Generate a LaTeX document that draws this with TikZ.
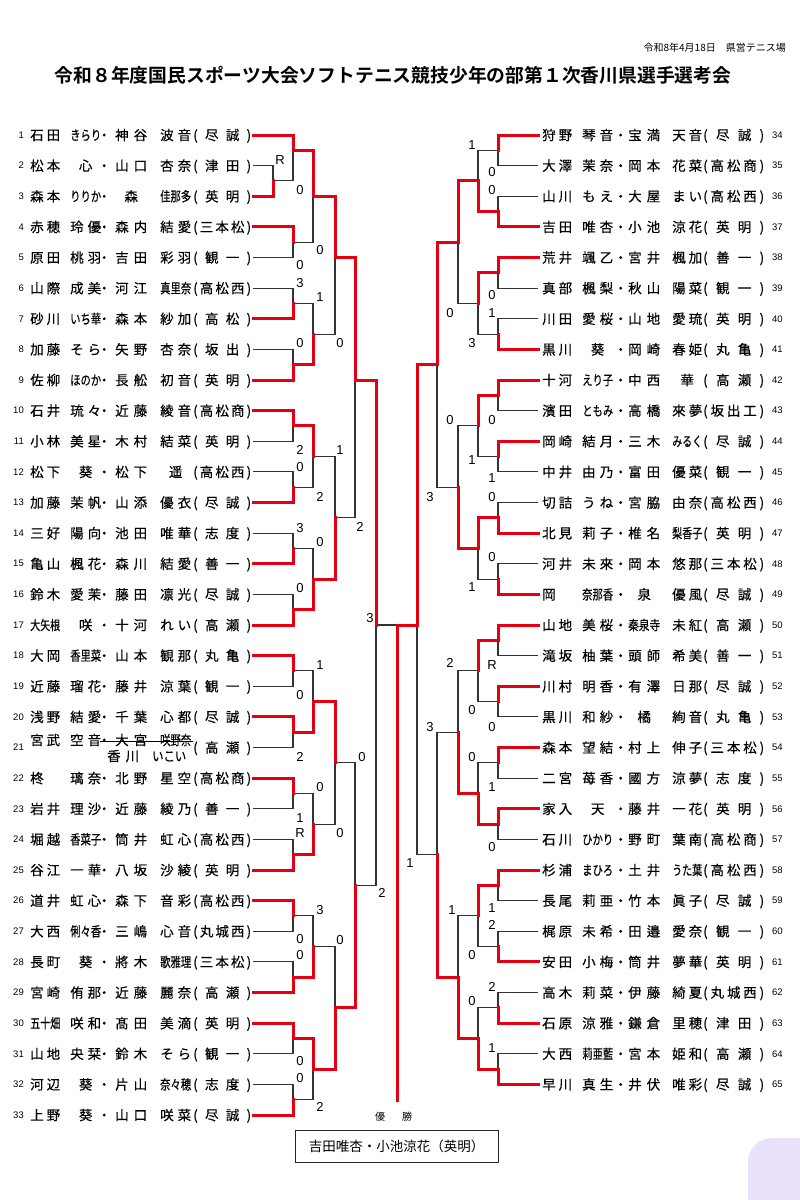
\documentclass[tikz,border=0pt]{standalone}
\usepackage{fontspec}
\usepackage{graphicx}
\usetikzlibrary{positioning}
\newfontfamily\cjk{Noto Sans CJK JP}[BoldFont={Noto Sans CJK JP Bold}]
\newfontfamily\cjkn{Noto Sans CJK JP}[FakeBold=0.3]
\newfontfamily\lat{Liberation Sans}
\definecolor{brk}{RGB}{228,0,18}
\definecolor{blob}{RGB}{234,226,250}
% spread the characters of a name over a fixed width, squeeze long ones
\newsavebox\dbox
\newdimen\dwd
\def\distA#1{#1\distB}
\def\distB#1{\ifx\relax#1\else\hfill#1\expandafter\distB\fi}
\newcommand\dist[2]{\sbox\dbox{#2}\dwd=\wd\dbox
  \ifdim\dwd>#1pt\pgfmathsetmacro\dfac{#1/\dwd}\scalebox{\dfac}[1]{\usebox\dbox}%
  \else\hbox to #1pt{\hss\distA#2\relax\hss}\fi}
% one entry on the left / right side
\newcommand\lrow[6]{%
  \node[num,anchor=east] (n#1) at (24,{135+30.625*(#1-1)}) {#1};
  \node[names] (a#1) at (30,{135+30.625*(#1-1)}) {\dist{30}{#2}\hspace{10pt}\dist{31}{#3}\hbox to 6pt{\hss・\hss}\hspace{8pt}\dist{32}{#4}\hspace{13pt}\dist{31}{#5}\hspace{2pt}\dist{58}{#6}};
  \coordinate (e#1) at (253,{135+30.625*(#1-1)});}
\newcommand\rrow[6]{%
  \node[num,anchor=west] (n#1) at (772,{135+30.625*(#1-34)}) {#1};
  \node[names] (a#1) at (542,{135+30.625*(#1-34)}) {\dist{30}{#2}\hspace{10pt}\dist{31}{#3}\hbox to 15pt{\hss・\hss}\dist{32}{#4}\hspace{12pt}\dist{30}{#5}\hspace{1pt}\dist{61}{#6}};
  \coordinate (e#1) at (538,{135+30.625*(#1-34)});}

\begin{document}
\begin{tikzpicture}[x=1pt,y=-1pt,
  names/.style={anchor=west,inner sep=0pt,font=\cjkn\fontsize{13.5}{14}\selectfont,text height=11.9pt,text depth=1.6pt},
  num/.style={inner sep=0pt,font=\lat\fontsize{9.5}{10}\selectfont},
  score/.style={inner sep=0pt,font=\lat\fontsize{13}{13}\selectfont},
  win/.style={draw=brk,line width=3pt,line cap=rect},
  lose/.style={draw=black!80,line width=1.1pt}]
\path[use as bounding box,fill=white] (0,0) rectangle (800,1200);
\node[anchor=east,inner sep=0pt,font=\cjk\fontsize{10}{10}\selectfont] (date) at (786,48) {令和8年4月18日　県営テニス場};
\node[inner sep=0pt,font=\cjk\bfseries\fontsize{18.8}{19}\selectfont] (title) at (393,75) {令和８年度国民スポーツ大会ソフトテニス競技少年の部第１次香川県選手選考会};
% left block
\lrow{1}{石田}{きらり}{神谷}{波音}{(尽誠)}
\lrow{2}{松本}{心}{山口}{杏奈}{(津田)}
\lrow{3}{森本}{りりか}{森}{佳那多}{(英明)}
\lrow{4}{赤穂}{玲優}{森内}{結愛}{(三本松)}
\lrow{5}{原田}{桃羽}{吉田}{彩羽}{(観一)}
\lrow{6}{山際}{成美}{河江}{真里奈}{(高松西)}
\lrow{7}{砂川}{いち華}{森本}{紗加}{(高松)}
\lrow{8}{加藤}{そら}{矢野}{杏奈}{(坂出)}
\lrow{9}{佐柳}{ほのか}{長舩}{初音}{(英明)}
\lrow{10}{石井}{琉々}{近藤}{綾音}{(高松商)}
\lrow{11}{小林}{美星}{木村}{結菜}{(英明)}
\lrow{12}{松下}{葵}{松下}{遥}{(高松西)}
\lrow{13}{加藤}{茉帆}{山添}{優衣}{(尽誠)}
\lrow{14}{三好}{陽向}{池田}{唯華}{(志度)}
\lrow{15}{亀山}{楓花}{森川}{結愛}{(善一)}
\lrow{16}{鈴木}{愛茉}{藤田}{凛光}{(尽誠)}
\lrow{17}{大矢根}{咲}{十河}{れい}{(高瀬)}
\lrow{18}{大岡}{香里菜}{山本}{観那}{(丸亀)}
\lrow{19}{近藤}{瑠花}{藤井}{涼葉}{(観一)}
\lrow{20}{浅野}{結愛}{千葉}{心都}{(尽誠)}
\node[num,anchor=east] (n21) at (24,747.5) {21};
\node[names] (a21) at (30,740) {\dist{30}{宮武}\hspace{10pt}\dist{31}{空音}\hbox to 6pt{\hss・\hss}\hspace{8pt}\dist{32}{大宮}\hspace{13pt}\dist{31}{咲野奈}};
\node[names] (a21b) at (107,756) {\dist{32}{香川}\hspace{13pt}\dist{34}{いこい}};
\node[names] (a21c) at (193,747.5) {\dist{58}{(高瀬)}};
\coordinate (e21) at (253,747.5);
\draw[black,line width=0.8pt] (100,741) -- (193,741);
\lrow{22}{柊\hss}{璃奈}{北野}{星空}{(高松商)}
\lrow{23}{岩井}{理沙}{近藤}{綾乃}{(善一)}
\lrow{24}{堀越}{香菜子}{筒井}{虹心}{(高松西)}
\lrow{25}{谷江}{一華}{八坂}{沙綾}{(英明)}
\lrow{26}{道井}{虹心}{森下}{音彩}{(高松西)}
\lrow{27}{大西}{俐々香}{三嶋}{心音}{(丸城西)}
\lrow{28}{長町}{葵}{將木}{歌雅理}{(三本松)}
\lrow{29}{宮崎}{侑那}{近藤}{麗奈}{(高瀬)}
\lrow{30}{五十畑}{咲和}{髙田}{美滴}{(英明)}
\lrow{31}{山地}{央栞}{鈴木}{そら}{(観一)}
\lrow{32}{河辺}{葵}{片山}{奈々穂}{(志度)}
\lrow{33}{上野}{葵}{山口}{咲菜}{(尽誠)}
% right block
\rrow{34}{狩野}{琴音}{宝満}{天音}{(尽誠)}
\rrow{35}{大澤}{茉奈}{岡本}{花菜}{(高松商)}
\rrow{36}{山川}{もえ}{大屋}{まい}{(高松西)}
\rrow{37}{吉田}{唯杏}{小池}{涼花}{(英明)}
\rrow{38}{荒井}{颯乙}{宮井}{楓加}{(善一)}
\rrow{39}{真部}{楓梨}{秋山}{陽菜}{(観一)}
\rrow{40}{川田}{愛桜}{山地}{愛琉}{(英明)}
\rrow{41}{黒川}{葵}{岡崎}{春姫}{(丸亀)}
\rrow{42}{十河}{えり子}{中西}{華}{(高瀬)}
\rrow{43}{濱田}{ともみ}{高橋}{來夢}{(坂出工)}
\rrow{44}{岡崎}{結月}{三木}{みるく}{(尽誠)}
\rrow{45}{中井}{由乃}{富田}{優菜}{(観一)}
\rrow{46}{切詰}{うね}{宮脇}{由奈}{(高松西)}
\rrow{47}{北見}{莉子}{椎名}{梨香子}{(英明)}
\rrow{48}{河井}{未來}{岡本}{悠那}{(三本松)}
\rrow{49}{岡\hss}{奈那香}{泉}{優風}{(尽誠)}
\rrow{50}{山地}{美桜}{秦泉寺}{未紅}{(高瀬)}
\rrow{51}{滝坂}{柚葉}{頭師}{希美}{(善一)}
\rrow{52}{川村}{明香}{有澤}{日那}{(尽誠)}
\rrow{53}{黒川}{和紗}{橘}{絢音}{(丸亀)}
\rrow{54}{森本}{望結}{村上}{伸子}{(三本松)}
\rrow{55}{二宮}{苺香}{國方}{涼夢}{(志度)}
\rrow{56}{家入}{天}{藤井}{一花}{(英明)}
\rrow{57}{石川}{ひかり}{野町}{葉南}{(高松商)}
\rrow{58}{杉浦}{まひろ}{土井}{うた葉}{(高松西)}
\rrow{59}{長尾}{莉亜}{竹本}{眞子}{(尽誠)}
\rrow{60}{梶原}{未希}{田邉}{愛奈}{(観一)}
\rrow{61}{安田}{小梅}{筒井}{夢華}{(英明)}
\rrow{62}{高木}{莉菜}{伊藤}{綺夏}{(丸城西)}
\rrow{63}{石原}{涼雅}{鎌倉}{里穂}{(津田)}
\rrow{64}{大西}{莉亜藍}{宮本}{姫和}{(高瀬)}
\rrow{65}{早川}{真生}{井伏}{唯彩}{(尽誠)}
% match points (level x, half-row k)
\foreach \c/\x/\k in {la/273/3,lb1/293/1,lb2/293/7,lb3/293/11,lb4/293/15,lb5/293/19,lb6/293/23,lb7/293/27,lb8/293/31,
  lb9/293/35,lb10/293/39,lb11/293/43,lb12/293/47,lb13/293/51,lb14/293/55,lb15/293/59,lb16/293/63,
  lc1/313/4,lc2/313/13,lc3/313/21,lc4/313/29,lc5/313/37,lc6/313/45,lc7/313/53,lc8/313/61,
  ld1/335/8,ld2/335/25,ld3/335/41,ld4/335/57,le1/355/16,le2/355/49,lf/376/32,fin/397/32,rf/417/32}
  \coordinate (\c) at (\x,{135+15.3125*\k});
\foreach \i in {1,...,16} \coordinate (rb\i) at (498,{135+15.3125*(4*\i-3)});
\foreach \i in {1,...,8} \coordinate (rc\i) at (478,{135+15.3125*(8*\i-5)});
\foreach \i in {1,...,4} \coordinate (rd\i) at (458,{135+15.3125*(16*\i-9)});
\foreach \i in {1,2} \coordinate (re\i) at (437,{135+15.3125*(32*\i-17)});
\coordinate (champ) at (397,1100);
% winner/loser/match
\def\games{e3/e2/la,e1/la/lb1,e4/e5/lb2,e7/e6/lb3,e9/e8/lb4,e10/e11/lb5,e13/e12/lb6,e15/e14/lb7,e17/e16/lb8,
  e18/e19/lb9,e20/e21/lb10,e22/e23/lb11,e25/e24/lb12,e26/e27/lb13,e29/e28/lb14,e30/e31/lb15,e33/e32/lb16,
  lb1/lb2/lc1,lb4/lb3/lc2,lb5/lb6/lc3,lb8/lb7/lc4,lb10/lb9/lc5,lb12/lb11/lc6,lb14/lb13/lc7,lb15/lb16/lc8,
  lc1/lc2/ld1,lc4/lc3/ld2,lc5/lc6/ld3,lc8/lc7/ld4,ld1/ld2/le1,ld4/ld3/le2,le1/le2/lf,
  e34/e35/rb1,e37/e36/rb2,e38/e39/rb3,e41/e40/rb4,e42/e43/rb5,e44/e45/rb6,e47/e46/rb7,e49/e48/rb8,
  e50/e51/rb9,e52/e53/rb10,e54/e55/rb11,e56/e57/rb12,e58/e59/rb13,e61/e60/rb14,e63/e62/rb15,e65/e64/rb16,
  rb2/rb1/rc1,rb3/rb4/rc2,rb5/rb6/rc3,rb7/rb8/rc4,rb9/rb10/rc5,rb12/rb11/rc6,rb13/rb14/rc7,rb16/rb15/rc8,
  rc1/rc2/rd1,rc4/rc3/rd2,rc6/rc5/rd3,rc8/rc7/rd4,rd1/rd2/re1,rd4/rd3/re2,re1/re2/rf,rf/lf/fin}
\foreach \w/\l/\m in \games {\draw[lose] (\l) -| (\m);}
\foreach \w/\l/\m in \games {\draw[win] (\w) -| (\m);}
\draw[win] (fin) -- (champ);
% game scores of the losers
\foreach \x/\y/\s [count=\i] in {280/160/R,300/190/0,320/250/0,300/265/0,300/283/3,320/297/1,300/343/0,340/343/0,
  300/450/2,340/450/1,300/467/0,320/497/2,300/528/3,360/527/2,320/542/0,300/588/0,370/618/3,320/665/1,300/695/0,
  362/757/0,300/757/2,320/787/0,300/818/1,300/833/R,340/833/0,382/893/2,320/910/3,340/940/0,300/939/0,300/955/0,
  300/1061/0,300/1078/0,320/1107/2,
  472/145/1,492/172/0,492/190/0,492/295/0,492/313/1,450/313/0,472/343/3,450/420/0,492/420/0,472/460/1,492/478/1,
  430/497/3,492/497/0,492/557/0,472/587/1,450/663/2,492/665/R,472/710/0,492/727/0,430/727/3,472/757/0,492/787/1,
  492/847/0,410/863/1,452/910/1,492/908/1,492/925/2,472/955/0,492/987/2,472/1001/0,492/1048/1}
  \node[score] (sc\i) at (\x,\y) {\s};
\node[inner sep=0pt,font=\cjk\fontsize{10}{10}\selectfont] (yusho) at (393.5,1117) {\hbox to 37pt{優\hfill 勝}};
\node[draw=black!85,line width=1pt,minimum width=203pt,minimum height=32pt,inner sep=0pt,font=\cjk\fontsize{13.5}{14}\selectfont] (champbox) at (396.5,1146) {吉田唯杏・小池涼花（英明）};
\begin{scope}
\clip (0,0) rectangle (800,1200);
\fill[blob,rounded corners=24pt] (748,1138) rectangle (870,1260);
\end{scope}
\end{tikzpicture}
\end{document}
